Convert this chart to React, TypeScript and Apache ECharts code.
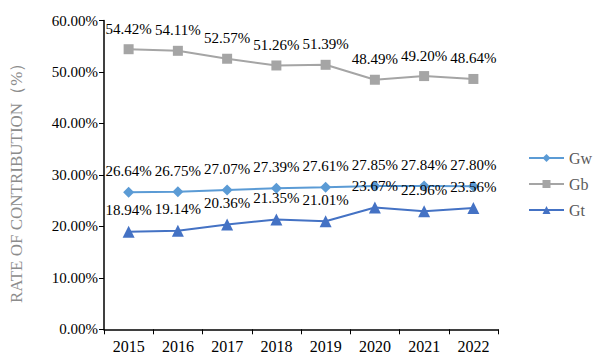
import React, { useEffect, useRef } from "react";
import * as echarts from "echarts";

const years = ["2015", "2016", "2017", "2018", "2019", "2020", "2021", "2022"];
const gw = [26.64, 26.75, 27.07, 27.39, 27.61, 27.85, 27.84, 27.8];
const gb = [54.42, 54.11, 52.57, 51.26, 51.39, 48.49, 49.2, 48.64];
const gt = [18.94, 19.14, 20.36, 21.35, 21.01, 23.67, 22.96, 23.56];

const SERIF = "'Liberation Serif', 'Times New Roman', serif";

export default function App() {
  const ref = useRef<HTMLDivElement>(null);
  useEffect(() => {
    const chart = echarts.init(ref.current!, null, { renderer: "svg" });
    const label = {
      show: true,
      position: "top" as const,
      distance: 8,
      color: "#000",
      fontFamily: SERIF,
      fontSize: 15,
      formatter: (p: any) => p.value.toFixed(2) + "%",
    };
    chart.setOption({
      animation: false,
      backgroundColor: "#fff",
      grid: { left: 101, right: 97, top: 20.5, bottom: 33.7 },
      legend: {
        orient: "vertical",
        left: 523,
        top: 145,
        itemWidth: 35,
        itemHeight: 10,
        itemGap: 10,
        textStyle: { color: "#595959", fontFamily: SERIF, fontSize: 16 },
        data: ["Gw", "Gb", "Gt"],
      },
      xAxis: {
        type: "category",
        data: years,
        boundaryGap: true,
        axisLine: { lineStyle: { color: "#000", width: 1.5 } },
        axisTick: { show: true, alignWithLabel: false, length: 5, lineStyle: { color: "#000" } },
        axisLabel: { color: "#000", fontFamily: SERIF, fontSize: 16, margin: 9 },
      },
      yAxis: {
        type: "value",
        min: 0,
        max: 60,
        interval: 10,
        name: "RATE OF CONTRIBUTION（%）",
        nameLocation: "middle",
        nameGap: 79,
        nameTextStyle: { color: "#8c8c8c", fontFamily: SERIF, fontSize: 17, padding: [0, 8, 0, 0] },
        axisLine: { show: true, lineStyle: { color: "#000", width: 1.5 } },
        axisTick: { show: true, length: 5, lineStyle: { color: "#000" } },
        splitLine: { show: false },
        axisLabel: {
          color: "#000",
          fontFamily: SERIF,
          fontSize: 15,
          margin: 6,
          formatter: (v: number) => v.toFixed(2) + "%",
        },
      },
      series: [
        {
          name: "Gw",
          type: "line",
          data: gw,
          symbol: "diamond",
          symbolSize: 11,
          itemStyle: { color: "#5B9BD5" },
          lineStyle: { color: "#5B9BD5", width: 2 },
          label,
        },
        {
          name: "Gb",
          type: "line",
          data: gb,
          symbol: "rect",
          symbolSize: 10,
          itemStyle: { color: "#A5A5A5" },
          lineStyle: { color: "#A5A5A5", width: 2 },
          label,
        },
        {
          name: "Gt",
          type: "line",
          data: gt,
          symbol: "triangle",
          symbolSize: 12,
          itemStyle: { color: "#4472C4" },
          lineStyle: { color: "#4472C4", width: 2 },
          label,
        },
      ],
    });
    return () => chart.dispose();
  }, []);
  return <div ref={ref} style={{ width: 595, height: 363, position: "absolute", left: 0, top: 0 }} />;
}
